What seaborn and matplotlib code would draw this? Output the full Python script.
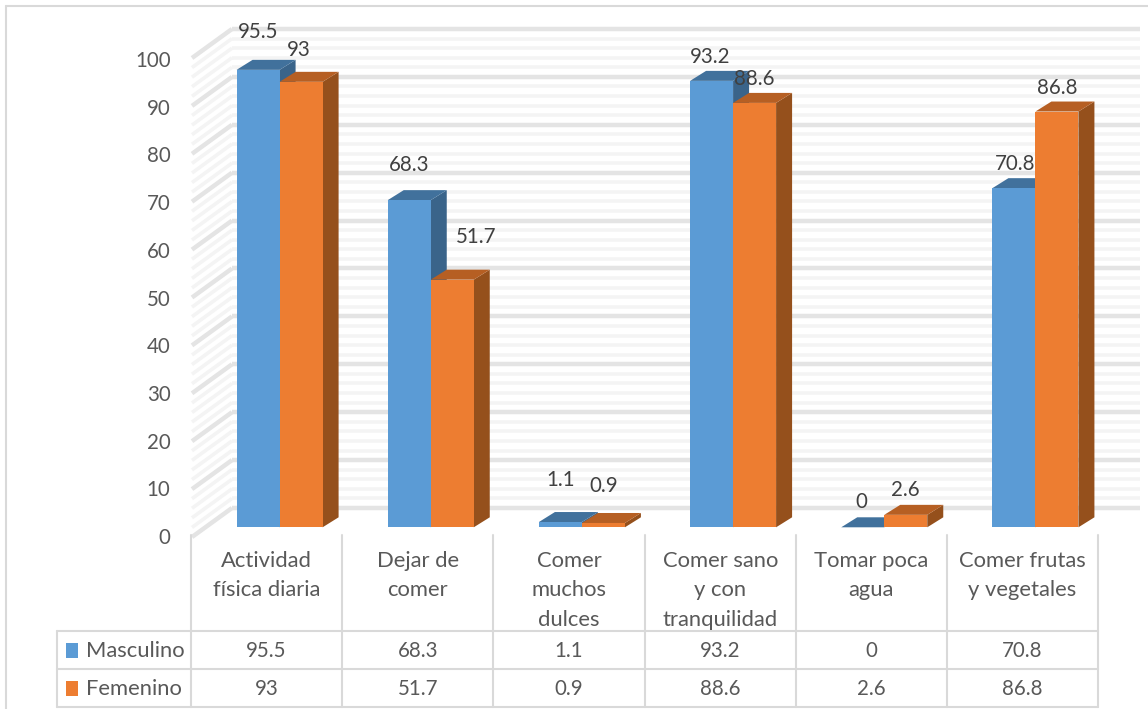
import matplotlib
matplotlib.use("Agg")
import matplotlib.pyplot as plt
from matplotlib.lines import Line2D
from matplotlib.patches import Polygon, Rectangle
from matplotlib.transforms import IdentityTransform
import pandas as pd
import seaborn as sns

# Survey results by habit and sex
categories = ["Actividad\nfísica diaria", "Dejar de\ncomer", "Comer\nmuchos\ndulces",
              "Comer sano\ny con\ntranquilidad", "Tomar poca\nagua", "Comer frutas\ny vegetales"]
masculino = [95.5, 68.3, 1.1, 93.2, 0, 70.8]
femenino = [93, 51.7, 0.9, 88.6, 2.6, 86.8]
series_names = ["Masculino", "Femenino"]
y_ticks = list(range(0, 101, 10))

W, H = 1148, 709
FONT = "Lato"
BLUE, ORANGE = "#5b9bd5", "#ed7d31"
FACE_SHADES = {BLUE: ("#41719c", "#3a648a"), ORANGE: ("#b65f23", "#95501c")}
TEXT, LABEL_TEXT, RULE = "#595959", "#404040", "#d9d9d9"
FS = 14.8
FS_WORDS = 15.8

sns.set_theme(style="white")
plt.rcParams["font.family"] = [FONT, "DejaVu Sans"]

df = pd.DataFrame({
    "cat": categories * 2,
    "sex": [series_names[0]] * 6 + [series_names[1]] * 6,
    "val": masculino + femenino,
})

fig = plt.figure(figsize=(W / 100, H / 100), dpi=100, facecolor="white")


def fx(x):
    return x / W


def fy(y):
    return 1 - y / H


# Plane of the bar fronts
base_y, top_y = 527.3, 48.3
ax = fig.add_axes([fx(204), fy(base_y), fx(1111 - 204), fy(top_y) - fy(base_y)])
sns.barplot(data=df, x="cat", y="val", hue="sex", order=categories, hue_order=series_names,
            palette=[BLUE, ORANGE], width=0.569, saturation=1, legend=False, ax=ax, zorder=5)
ax.set_xlim(-0.5, 5.5)
ax.set_ylim(0, 100)
ax.axis("off")


def disp(x, v, dx=0.0, dy=0.0):
    px, py = ax.transData.transform((x, v))
    return px + dx, py + dy


# Back wall and side wall, with rules every 2 units
FRONT = (-12, -9.7)
BACK = (28, 19.3)
BACK_R = 29
identity = IdentityTransform()
for v in range(0, 101, 2):
    major = v % 10 == 0
    color = "#e4e4e4" if major else "#f4f4f4"
    lw = 3.2 if major else 2.6
    p0, p1 = disp(-0.5, v, *BACK), disp(5.5, v, BACK_R, BACK[1])
    ax.add_line(Line2D([p0[0], p1[0]], [p0[1], p1[1]], color=color, lw=lw, zorder=1,
                       transform=identity, clip_on=False, solid_capstyle="butt"))
    q0, q1 = disp(-0.5, v, *FRONT), disp(-0.5, v, *BACK)
    ax.add_line(Line2D([q0[0], q1[0]], [q0[1], q1[1]], color=color, lw=lw, zorder=1,
                       transform=identity, clip_on=False, solid_capstyle="butt"))

# Depth faces, built from the bars seaborn placed
DX, DY = 16, 10
bars = [p for p in ax.patches if isinstance(p, Rectangle)]
for i, bar in enumerate(bars):
    colour = BLUE if i < 6 else ORANGE
    top_c, side_c = FACE_SHADES[colour]
    x0, x1 = bar.get_x(), bar.get_x() + bar.get_width()
    h = bar.get_height()
    z = 3 if i < 6 else 4
    bar.set_zorder(z + 0.5)
    bar.set_linewidth(0)
    top = [disp(x0, h), disp(x1, h), disp(x1, h, DX, DY), disp(x0, h, DX, DY)]
    side = [disp(x1, 0), disp(x1, 0, DX, DY), disp(x1, h, DX, DY), disp(x1, h)]
    for pts, c in ((side, side_c), (top, top_c)):
        ax.add_patch(Polygon(pts, closed=True, facecolor=c, edgecolor="none", zorder=z,
                             transform=identity, clip_on=False))

# Value labels above each column (pixel nudges)
nudges = [(0, 38), (0, 35), (0, 42), (-1, 24), (-1, 25), (1, 24),
          (-2, 32), (24, 43), (0, 37), (0, 24), (0, 25), (0, 24)]
for bar, val, (nx, ny) in zip(bars, masculino + femenino, nudges):
    ax.annotate(f"{val:g}", (bar.get_x() + bar.get_width() / 2, val),
                xytext=(nx, ny), textcoords="offset pixels", ha="center", va="center",
                fontsize=FS, color=LABEL_TEXT, zorder=8, annotation_clip=False)

# Value axis sits on the front edge of the side wall
ax_scale = fig.add_axes([fx(192), fy(536), 0.0001, fy(59) - fy(536)], frameon=False)
ax_scale.set_ylim(0, 100)
ax_scale.set_yticks(y_ticks)
ax_scale.set_yticklabels([str(t) for t in y_ticks], fontsize=FS, color=TEXT)
ax_scale.set_xticks([])
ax_scale.tick_params(axis="y", length=0, pad=21.5 * 0.72)


def rule(x0, y0, x1, y1):
    fig.add_artist(Line2D([fx(x0), fx(x1)], [fy(y0), fy(y1)], color=RULE, lw=1.5,
                          transform=fig.transFigure))


# Outer chart border, open on the cropped sides
rule(6, 6, W, 6)
rule(6, 6, 6, H)

# Data table below the plot
col_edges = [191 + i * 151.2 for i in range(7)]
row_y = [631, 669, 707]
for x in col_edges:
    rule(x, 535, x, 707)
rule(57, 631, 57, 707)
for y in row_y:
    rule(57, y, col_edges[-1], y)

centers = [(a + b) / 2 for a, b in zip(col_edges, col_edges[1:])]
for cx, label in zip(centers, categories):
    for j, line in enumerate(label.split("\n")):
        fig.text(fx(cx), fy(561 + j * 29.5), line, ha="center", va="center",
                 fontsize=FS_WORDS, color=TEXT)

for r, (name, values, colour) in enumerate(zip(series_names, (masculino, femenino), (BLUE, ORANGE))):
    yc = 651 + r * 38
    fig.add_artist(Rectangle((fx(66), fy(yc + 7)), 12 / W, 15 / H, facecolor=colour,
                             edgecolor="none", transform=fig.transFigure))
    fig.text(fx(86), fy(yc), name, ha="left", va="center", fontsize=FS_WORDS, color=TEXT)
    for cx, val in zip(centers, values):
        fig.text(fx(cx), fy(yc), f"{val:g}", ha="center", va="center", fontsize=FS, color=TEXT)

fig.savefig("out.png", dpi=100)
